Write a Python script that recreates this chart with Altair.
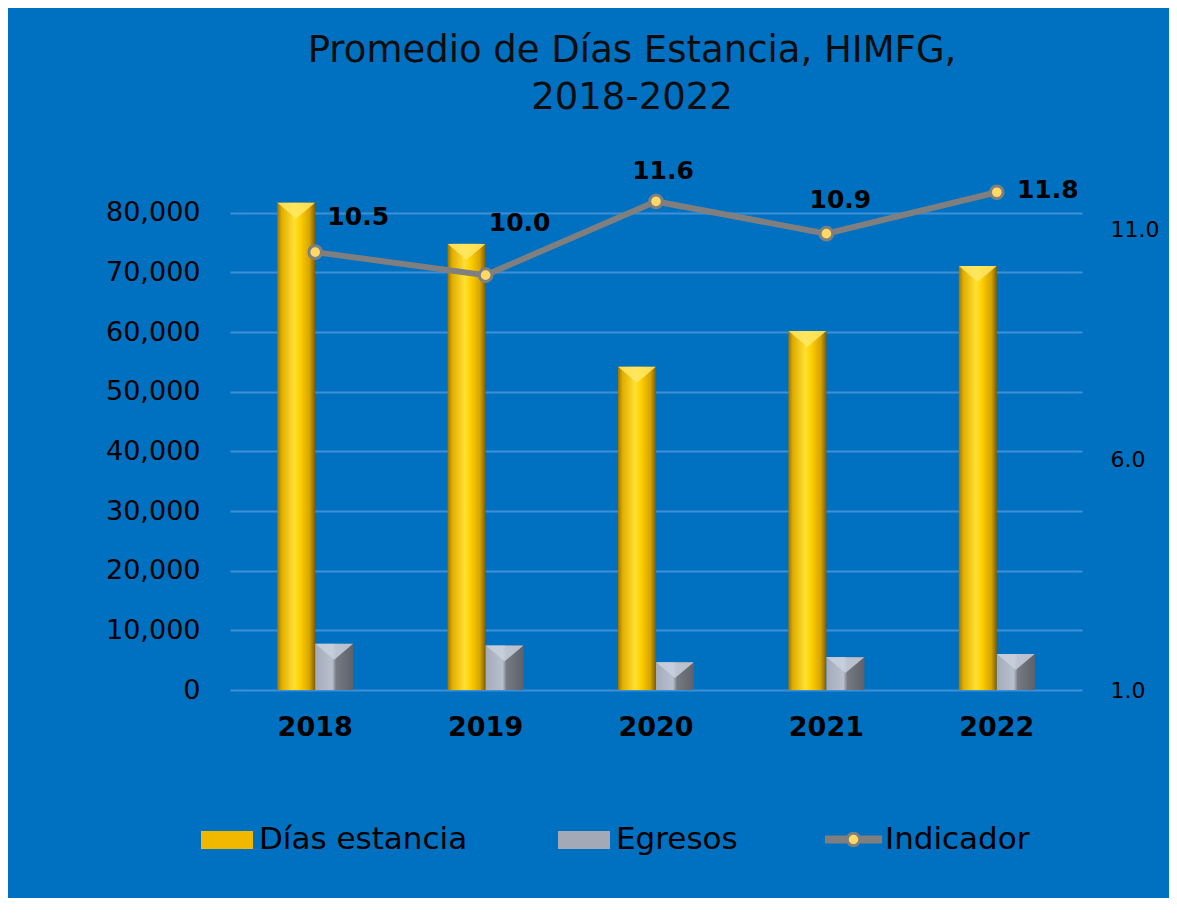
import altair as alt
import pandas as pd

# ---- data ----
years = ["2018", "2019", "2020", "2021", "2022"]
dias_estancia = [81700, 74800, 54200, 60200, 71100]
egresos = [7750, 7480, 4670, 5520, 6030]
indicador = [10.5, 10.0, 11.6, 10.9, 11.8]
series_names = ["Días estancia", "Egresos", "Indicador"]

# label offsets (style) for the indicator value labels, per year
label_dx = {"2018": 43, "2019": 34, "2020": 7, "2021": 14, "2022": 51}
label_dy = {"2018": -35, "2019": -52, "2020": -30, "2021": -34, "2022": -2}

FONT = "DejaVu Sans"
BG = "#0070C0"

bars_df = pd.DataFrame({
    "year": years * 2,
    "serie": [series_names[0]] * len(years) + [series_names[1]] * len(years),
    "valor": dias_estancia + egresos,
})
line_df = pd.DataFrame({"year": years, "indicador": indicador,
                        "serie": [series_names[2]] * len(years)})

gold = {"gradient": "linear", "x1": 0, "x2": 1, "y1": 0, "y2": 0,
        "stops": [{"offset": 0, "color": "#9C7400"},
                  {"offset": 0.12, "color": "#E0AE00"},
                  {"offset": 0.45, "color": "#FFE033"},
                  {"offset": 0.6, "color": "#FFD000"},
                  {"offset": 0.85, "color": "#D6A400"},
                  {"offset": 1, "color": "#7E5C00"}]}
grey = {"gradient": "linear", "x1": 0, "x2": 1, "y1": 0, "y2": 0,
        "stops": [{"offset": 0, "color": "#A4ABBA"},
                  {"offset": 0.45, "color": "#B8BFCD"},
                  {"offset": 0.55, "color": "#767A83"},
                  {"offset": 1, "color": "#5E6168"}]}

x_enc = alt.X("year:N", title=None, sort=years,
              scale=alt.Scale(paddingInner=0.554, paddingOuter=0.277),
              axis=alt.Axis(labelFontSize=27, labelFontWeight="bold", labelColor="#000000",
                            labelPadding=24, ticks=False, tickSize=0, domain=False,
                            labelAngle=0, labelFont=FONT))

x_off = alt.XOffset("serie:N", sort=series_names[:2],
                    scale=alt.Scale(domain=series_names[:2], paddingInner=0, paddingOuter=0))

bars = alt.Chart(bars_df).mark_bar(stroke=None).encode(
    x=x_enc,
    xOffset=x_off,
    y=alt.Y("valor:Q", title=None,
            scale=alt.Scale(domain=[0, 85000], nice=False, zero=True),
            axis=alt.Axis(values=[0, 10000, 20000, 30000, 40000, 50000, 60000, 70000, 80000],
                          format=",.0f", labelFontSize=27, labelColor="#000000", labelFont=FONT,
                          labelPadding=30, ticks=False, tickSize=0, domain=False,
                          grid=True, gridColor="#3F8FD8", gridWidth=2)),
    color=alt.when(alt.datum.serie == series_names[0]).then(alt.value(gold)).otherwise(alt.value(grey)),
)

# bevel highlight on the top of each bar
bevel_shape = "M-1,-0.42L1,-0.42L0,0.42Z"
bevels = alt.Chart(bars_df).mark_point(filled=True, shape=bevel_shape, size=1420,
                                       yOffset=8, opacity=0.85, strokeWidth=0).encode(
    x=alt.X("year:N", sort=years),
    xOffset=x_off,
    y=alt.Y("valor:Q"),
    color=alt.when(alt.datum.serie == series_names[0]).then(alt.value("#FFE866")).otherwise(alt.value("#C9D0DE")),
)

# legend for the two bar series (empty data, only drives the legend)
legend_shape_rect = "M-1,-0.35H1V0.35H-1Z"
bar_legend = alt.Chart(bars_df).transform_filter("false").mark_bar().encode(
    color=alt.Color("serie:N",
                    scale=alt.Scale(domain=series_names[:2], range=["#F2B800", "#A3A9B6"]),
                    legend=alt.Legend(title=None, orient="none", direction="horizontal",
                                      legendX=-29, legendY=631, labelFontSize=31, labelFont=FONT,
                                      labelColor="#000000", labelOffset=6, symbolSize=2704,
                                      symbolType=legend_shape_rect, symbolStrokeWidth=0,
                                      columnPadding=90, labelLimit=400)),
)

y_right = alt.Y("indicador:Q", title=None,
                scale=alt.Scale(domain=[1, 12], nice=False, zero=False),
                axis=alt.Axis(orient="right", values=[1, 6, 11], format=".1f", labelFontSize=22,
                              labelColor="#000000", labelFont=FONT, labelPadding=28,
                              ticks=False, tickSize=0, domain=False, grid=False))

legend_shape_line = ("M-1.1,-0.1H-0.24M-1.1,0H-0.24M-1.1,0.1H-0.24"
                     "M0.24,-0.1H1.1M0.24,0H1.1M0.24,0.1H1.1"
                     "M0.24,0A0.24,0.24 0 1,1 -0.24,0A0.24,0.24 0 1,1 0.24,0Z")

line = alt.Chart(line_df).mark_line(strokeWidth=6, color="#7F7F7F").encode(
    x=alt.X("year:N", sort=years),
    y=y_right,
)

points = alt.Chart(line_df).mark_point(filled=True, fill="#FFD966",
                                       strokeWidth=3, size=160, opacity=1).encode(
    x=alt.X("year:N", sort=years),
    y=alt.Y("indicador:Q"),
    stroke=alt.Stroke("serie:N", scale=alt.Scale(domain=[series_names[2]], range=["#7F7F7F"]),
                      legend=alt.Legend(title=None, orient="none", direction="horizontal",
                                        legendX=596, legendY=629, labelFontSize=31, labelFont=FONT,
                                        labelColor="#000000", labelOffset=4, symbolSize=2704,
                                        symbolType=legend_shape_line, symbolStrokeWidth=3,
                                        symbolFillColor="#FFD966", labelLimit=400)),
)

text_layers = []
for yr in years:
    text_layers.append(
        alt.Chart(line_df).transform_filter(alt.datum.year == yr).mark_text(
            font=FONT, fontSize=25, fontWeight="bold", color="#000000",
            align="center", baseline="middle", dx=label_dx[yr], dy=label_dy[yr]
        ).encode(
            x=alt.X("year:N", sort=years),
            y=alt.Y("indicador:Q"),
            text=alt.Text("indicador:Q", format=".1f"),
        )
    )

left_layer = alt.layer(bars, bevels, bar_legend)
right_layer = alt.layer(line, points, *text_layers)

chart = alt.layer(left_layer, right_layer).resolve_scale(y="independent").properties(
    width=852, height=507,
    autosize=alt.AutoSizeParams(type="none"),
    padding={"left": 222, "top": 175, "right": 87, "bottom": 208},
    background=BG,
    title=alt.TitleParams(text=["Promedio de Días Estancia, HIMFG,", "2018-2022"],
                          font=FONT, fontSize=37, fontWeight="normal", color="#0D0D0D",
                          anchor="middle", lineHeight=47, offset=42, dx=-24),
).configure_view(stroke=None)

chart.save("out.html", embed_options={"renderer": "svg", "actions": False})
